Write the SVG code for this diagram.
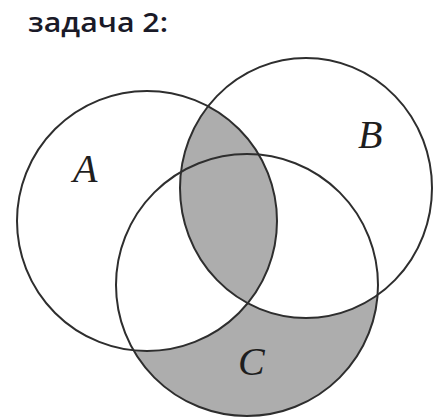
<svg xmlns="http://www.w3.org/2000/svg" width="433" height="418" viewBox="0 0 433 418">
<style>
.fillw{fill:#ffffff;stroke:none}
.fillg{fill:#adadad;stroke:none}
.ring{fill:none;stroke:#2e2e2e;stroke-width:2}
.lbl{font-family:"Liberation Serif","Times New Roman",serif;font-style:italic;font-size:40px;fill:#1e1e1e}
.title{font-family:"Open Sans","Noto Sans","DejaVu Sans",sans-serif;font-size:27px;font-weight:600;fill:#1a1a28}
</style>
<defs>
<clipPath id="clipA"><circle cx="147" cy="221" r="130"/></clipPath>
</defs>
<rect width="433" height="418" fill="#ffffff"/>
<text class="title" x="28" y="32" textLength="140" lengthAdjust="spacingAndGlyphs">задача 2:</text>
<g id="fills">
<circle class="fillg" cx="247" cy="285" r="131"/>
<circle class="fillw" cx="147" cy="221" r="130"/>
<ellipse class="fillw" cx="306" cy="188" rx="126" ry="130"/>
<ellipse class="fillg" cx="306" cy="188" rx="126" ry="130" clip-path="url(#clipA)"/>
</g>
<g id="A">
<circle class="ring" cx="147" cy="221" r="130"/>
<text class="lbl" x="73" y="182">A</text>
</g>
<g id="B">
<ellipse class="ring" cx="306" cy="188" rx="126" ry="130"/>
<text class="lbl" x="358" y="148">B</text>
</g>
<g id="C">
<circle class="ring" cx="247" cy="285" r="131"/>
<text class="lbl" x="238" y="375">C</text>
</g>
</svg>
